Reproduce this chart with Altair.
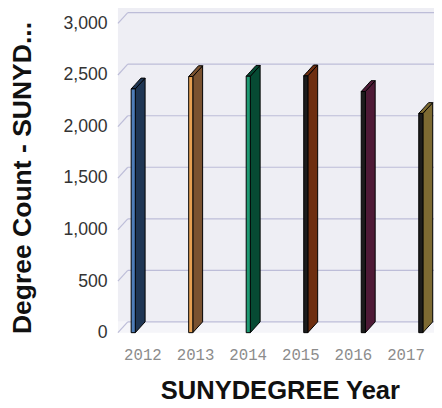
import altair as alt
import pandas as pd

# ---- data ----
years = [2012, 2013, 2014, 2015, 2016, 2017]
counts = [2365, 2485, 2488, 2492, 2340, 2127]
side_colors = ["#1F3654", "#7A5230", "#064A33", "#6E2E10", "#4E1A36", "#7D6A32"]
front_colors = ["#4E7DB8", "#E6A052", "#1E9A72", "#1C1C1C", "#1C1C1C", "#1C1C1C"]
y_ticks = [0, 500, 1000, 1500, 2000, 2500, 3000]
y_title = "Degree Count - SUNYD..."
x_title = "SUNYDEGREE Year"

# ---- layout / style constants ----
W, H = 322, 315
YMAX = 3000
X_DOM = [2011.77, 2017.265]        # bar scale
LBL_DOM = [2011.534, 2017.541]     # label scale (front edge, perspective)
DEPTH_X, DEPTH_Y = 10, 11          # px of 3D depth
FRONT_W = 4.2                      # px width of the front face

px_per_year = W / (X_DOM[1] - X_DOM[0])
px_per_unit = H / YMAX
dx = DEPTH_X / px_per_year
dy = DEPTH_Y / px_per_unit
fw = FRONT_W / px_per_year

xs = alt.Scale(domain=X_DOM, nice=False, zero=False)
ys = alt.Scale(domain=[0, YMAX], nice=False, zero=False)

y_axis = alt.Axis(
    values=y_ticks, labelExpr="format(datum.value, ',')",
    grid=False, domain=False, ticks=False,
    labelFontSize=18, labelFont="Liberation Sans", labelColor="#333333",
    labelPadding=11,
    title=y_title, titleFont="Liberation Sans", titleFontSize=27,
    titleFontWeight="bold", titleColor="#111111",
    titleAngle=-90, titleX=-97, titleY=157, titleAlign="center",
    titleBaseline="middle",
)

# ---- derived tables ----
front_df = pd.DataFrame({
    "year": years,
    "x0": years,
    "x1": [y + fw for y in years],
    "v": counts,
    "c": front_colors,
})

side_rows, top_rows = [], []
for yr, v, c in zip(years, counts, side_colors):
    side_rows += [
        {"year": yr, "x": yr + fw, "lo": 0, "hi": v, "c": c},
        {"year": yr, "x": yr + fw + dx, "lo": dy, "hi": v + dy, "c": c},
    ]
    top_rows += [
        {"year": yr, "x": yr, "lo": v, "hi": v, "c": c},
        {"year": yr, "x": yr + fw, "lo": v, "hi": v + dy * fw / dx, "c": c},
        {"year": yr, "x": yr + dx, "lo": v + dy * (dx - fw) / dx, "hi": v + dy, "c": c},
        {"year": yr, "x": yr + fw + dx, "lo": v + dy, "hi": v + dy, "c": c},
    ]
side_df = pd.DataFrame(side_rows)
top_df = pd.DataFrame(top_rows)

wall_df = pd.DataFrame({"x0": [X_DOM[0]], "x1": [X_DOM[1]], "y0": [0], "y1": [YMAX]})
grid_df = pd.DataFrame({"x0": [X_DOM[0]] * len(y_ticks), "x1": [X_DOM[1]] * len(y_ticks), "v": y_ticks})
lbl_df = pd.DataFrame({"year": years, "v": [0] * len(years)})

GRID = "#BDBDD8"

wall = alt.Chart(wall_df).mark_rect(
    fill="#EEEEF4", yOffset=-DEPTH_Y, y2Offset=-DEPTH_Y - 6
).encode(
    x=alt.X("x0:Q", scale=xs, axis=None), x2="x1",
    y=alt.Y("y0:Q", scale=ys, axis=y_axis), y2="y1",
)

floor = alt.Chart(wall_df).mark_rect(
    fill="#F5F5F9", y2Offset=-DEPTH_Y
).encode(
    x=alt.X("x0:Q", scale=xs, axis=None), x2="x1",
    y=alt.Y("y0:Q", scale=ys, axis=y_axis), y2="y0",
)

grid = alt.Chart(grid_df).mark_rule(
    color=GRID, strokeWidth=1.2, xOffset=DEPTH_X, yOffset=-DEPTH_Y
).encode(
    x=alt.X("x0:Q", scale=xs, axis=None), x2="x1",
    y=alt.Y("v:Q", scale=ys, axis=y_axis),
)

slant = alt.Chart(grid_df).mark_rule(
    color=GRID, strokeWidth=1.2, x2Offset=DEPTH_X, y2Offset=-DEPTH_Y
).encode(
    x=alt.X("x0:Q", scale=xs, axis=None), x2="x0",
    y=alt.Y("v:Q", scale=ys, axis=y_axis), y2="v",
)

side = alt.Chart(side_df).mark_area(
    stroke="#000000", strokeWidth=1, strokeJoin="round"
).encode(
    x=alt.X("x:Q", scale=xs, axis=None),
    y=alt.Y("hi:Q", scale=ys, axis=y_axis), y2="lo",
    detail="year:N",
    fill=alt.Fill("c:N", scale=None),
)

top = alt.Chart(top_df).mark_area(
    stroke="#000000", strokeWidth=1, strokeJoin="round"
).encode(
    x=alt.X("x:Q", scale=xs, axis=None),
    y=alt.Y("hi:Q", scale=ys, axis=y_axis), y2="lo",
    detail="year:N",
    fill=alt.Fill("c:N", scale=None),
)

front = alt.Chart(front_df).mark_rect(
    stroke="#000000", strokeWidth=1
).encode(
    x=alt.X("x0:Q", scale=xs, axis=None), x2="x1",
    y=alt.Y("v:Q", scale=ys, axis=y_axis),
    y2=alt.datum(0),
    fill=alt.Fill("c:N", scale=None),
)

labels = alt.Chart(lbl_df).mark_point(opacity=0).encode(
    x=alt.X("year:Q", scale=alt.Scale(domain=LBL_DOM, nice=False, zero=False),
            axis=alt.Axis(
                values=years, format="d", grid=False, domain=False, ticks=False,
                tickSize=0, labelFont="Liberation Mono", labelFontSize=16,
                labelColor="#8C8C8C", labelPadding=22, labelBaseline="middle",
                title=x_title, titleFont="Liberation Sans", titleFontSize=26,
                titleFontWeight="bold", titleColor="#111111",
                titleBaseline="alphabetic", titleY=67, titleX=165,
            )),
    y=alt.Y("v:Q", scale=ys, axis=y_axis),
)

chart = alt.layer(
    wall, floor, grid, slant, side, top, front, labels
).resolve_scale(x="independent").properties(
    width=W, height=H,
    autosize=alt.AutoSizeParams(type="none"),
    padding={"left": 112, "top": 12, "right": 0, "bottom": 73},
).configure_view(stroke=None)

chart.save("out.html", embed_options={"renderer": "svg", "actions": False})
